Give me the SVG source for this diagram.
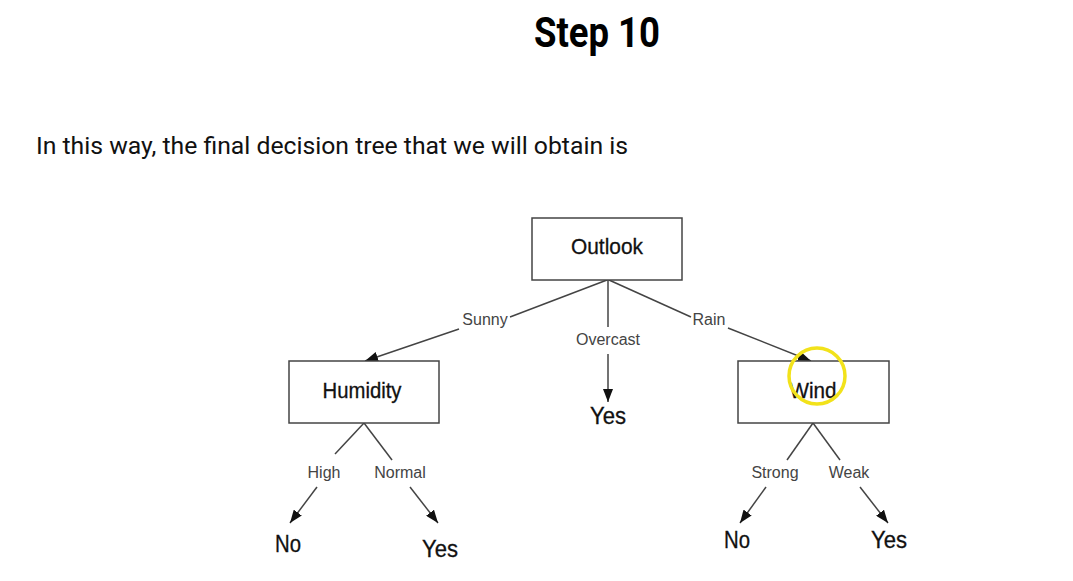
<svg xmlns="http://www.w3.org/2000/svg" width="1073" height="581" viewBox="0 0 1073 581">
<style>
.title{font-family:Roboto,"Liberation Sans",sans-serif;font-weight:bold;font-size:42px;fill:#000}
.para{font-family:Roboto,"Liberation Sans",sans-serif;font-size:23px;fill:#111}
.node{fill:#fff;stroke:#444;stroke-width:1.5}
.nt{font-family:"Liberation Sans",Arial,sans-serif;font-size:22px;fill:#111;stroke:#111;stroke-width:0.3;text-anchor:middle}
.lbl{font-family:"Liberation Sans",Arial,sans-serif;font-size:16px;fill:#444;text-anchor:middle}
.leaf{font-family:"Liberation Sans",Arial,sans-serif;font-size:24px;fill:#111;stroke:#111;stroke-width:0.3;text-anchor:middle}
.ln{stroke:#444;stroke-width:1.5;fill:none}
</style>
<defs>
<marker id="ah" markerWidth="14" markerHeight="10" refX="13" refY="5" orient="auto" markerUnits="userSpaceOnUse">
<path d="M0,0 L13,5 L0,10 z" fill="#111"/>
</marker>
</defs>
<rect width="1073" height="581" fill="#fff"/>
<text class="title" x="534" y="47" textLength="126" lengthAdjust="spacingAndGlyphs">Step 10</text>
<text class="para" x="36" y="154" textLength="592" lengthAdjust="spacingAndGlyphs">In this way, the final decision tree that we will obtain is</text>

<g id="connectors">
<line class="ln" x1="607" y1="280" x2="510" y2="317"/>
<line class="ln" x1="459" y1="329" x2="365" y2="361" marker-end="url(#ah)"/>
<line class="ln" x1="608" y1="280" x2="608" y2="327"/>
<line class="ln" x1="608" y1="354" x2="608" y2="402" marker-end="url(#ah)"/>
<line class="ln" x1="609" y1="280" x2="691" y2="317"/>
<line class="ln" x1="728" y1="328" x2="811" y2="361" marker-end="url(#ah)"/>
<line class="ln" x1="364" y1="423" x2="335" y2="454"/>
<line class="ln" x1="317" y1="487" x2="290" y2="523" marker-end="url(#ah)"/>
<line class="ln" x1="364" y1="423" x2="392" y2="460"/>
<line class="ln" x1="410" y1="487" x2="438" y2="523" marker-end="url(#ah)"/>
<line class="ln" x1="813" y1="423" x2="787" y2="460"/>
<line class="ln" x1="766" y1="487" x2="740" y2="523" marker-end="url(#ah)"/>
<line class="ln" x1="813" y1="423" x2="840" y2="460"/>
<line class="ln" x1="860" y1="487" x2="888" y2="523" marker-end="url(#ah)"/>
<text class="lbl" x="485" y="325">Sunny</text>
<text class="lbl" x="608" y="345">Overcast</text>
<text class="lbl" x="709" y="325">Rain</text>
<text class="lbl" x="324" y="478">High</text>
<text class="lbl" x="400" y="478">Normal</text>
<text class="lbl" x="775" y="478">Strong</text>
<text class="lbl" x="849" y="478">Weak</text>
</g>

<g id="outlook"><rect class="node" x="532" y="218" width="150" height="62"/><text class="nt" x="607" y="254" textLength="72" lengthAdjust="spacingAndGlyphs">Outlook</text></g>
<g id="humidity"><rect class="node" x="289" y="361" width="150" height="62"/><text class="nt" x="362" y="398" textLength="79" lengthAdjust="spacingAndGlyphs">Humidity</text></g>
<g id="wind"><rect class="node" x="738" y="361" width="151" height="62"/><text class="nt" x="813" y="398" textLength="47" lengthAdjust="spacingAndGlyphs">Wind</text></g>
<g id="yes-overcast"><text class="leaf" x="608" y="424" textLength="36" lengthAdjust="spacingAndGlyphs">Yes</text></g>
<g id="no-high"><text class="leaf" x="288" y="552" textLength="26" lengthAdjust="spacingAndGlyphs">No</text></g>
<g id="yes-normal"><text class="leaf" x="440" y="557" textLength="36" lengthAdjust="spacingAndGlyphs">Yes</text></g>
<g id="no-strong"><text class="leaf" x="737" y="548" textLength="26" lengthAdjust="spacingAndGlyphs">No</text></g>
<g id="yes-weak"><text class="leaf" x="889" y="548" textLength="36" lengthAdjust="spacingAndGlyphs">Yes</text></g>

<circle cx="817" cy="376" r="28" fill="none" stroke="#f2e21a" stroke-width="3.5"/>
</svg>
